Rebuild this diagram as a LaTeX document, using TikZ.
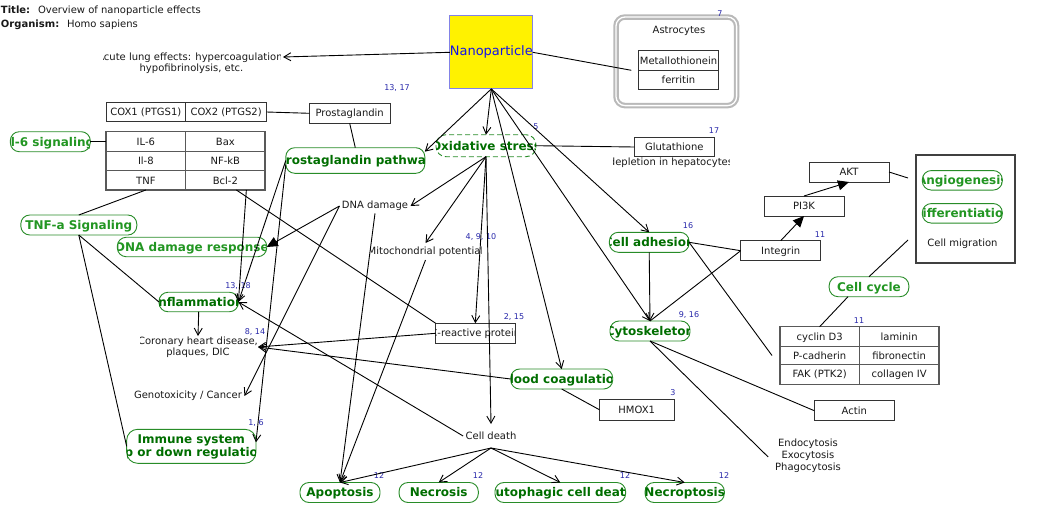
\documentclass[tikz,border=0pt]{standalone}
\usepackage{fontspec}
\setmainfont{DejaVu Sans}
\usetikzlibrary{arrows.meta}

\definecolor{pwdark}{RGB}{0,110,0}
\definecolor{pwlight}{RGB}{34,150,34}
\definecolor{pwedge}{RGB}{40,140,40}
\definecolor{refblue}{RGB}{40,40,170}
\definecolor{npblue}{RGB}{20,20,235}
\definecolor{npedge}{RGB}{130,130,230}
\definecolor{grpgray}{RGB}{185,185,185}

\tikzset{
  base/.style={inner sep=0pt, outer sep=0pt},
  plain/.style={base, font=\fontsize{10}{11}\selectfont, text=black!90},
  txt/.style={plain, text height=7.3pt, text depth=0pt},
  gene/.style={txt, draw=black!80, line width=0.9pt, fill=white},
  cell/.style={txt, draw=black!65, line width=1.1pt},
  pwbox/.style={base, draw=pwedge, line width=0.9pt, fill=white, rounded corners=9pt},
  pwtext/.style={base, font=\fontsize{12}{13}\selectfont\bfseries, text height=8.7pt, text depth=0pt},
  ref/.style={base, font=\fontsize{8}{9}\selectfont, text=refblue},
  link/.style={draw=black, line width=0.9pt},
  arr/.style={link, -{Straight Barb[length=7pt,width=8pt]}},
  tri/.style={link, -{Triangle[length=11pt,width=10pt]}},
}

% pathway label: rounded box whose label is cut at the box edges
\newcommand\pwnode[7]{%
  \node[pwbox, minimum width=#3, minimum height=#4, #7] (#1) at (#2) {};
  \begin{scope}
    \clip ([xshift=0.8pt]#1.south west) rectangle ([xshift=-0.8pt]#1.north east);
    \node[pwtext, text=#5] (#1-label) at (#1.center) {#6};
  \end{scope}}

% free text cut at a fixed width
\newcommand\cliptext[5]{%
  \node[base, minimum width=#3, minimum height=#4] (#1) at (#2) {};
  \begin{scope}
    \clip (#1.south west) rectangle (#1.north east);
    \node[plain, align=center] (#1-label) at (#1.center) {#5};
  \end{scope}}

\begin{document}
\begin{tikzpicture}[x=1pt, y=-1pt]
\fill[white] (0,0) rectangle (1037,517);
\useasboundingbox (0,0) rectangle (1037,517);

% header
\node[txt, anchor=west, font=\fontsize{10}{11}\selectfont\bfseries] (ttlkey) at (1,10) {Title:};
\node[txt, anchor=west] (ttlval) at (38,10) {Overview of nanoparticle effects};
\node[txt, anchor=west, font=\fontsize{10}{11}\selectfont\bfseries] (orgkey) at (1,24) {Organism:};
\node[txt, anchor=west] (orgval) at (67,24) {Homo sapiens};

% nanoparticle
\node[base, draw=npedge, fill=yellow, line width=1pt, minimum width=79.3pt, minimum height=73.3pt,
      font=\fontsize{13}{14}\selectfont, text=npblue] (np) at (491.3,52.3) {Nanoparticle};

% astrocytes group
\node[base, draw=grpgray, double=white, double distance=1.3pt, line width=2.1pt, rounded corners=9pt,
      minimum width=120.6pt, minimum height=88.6pt] (astro) at (676.3,61.3) {};
\node[txt] (astrolbl) at (679,30) {Astrocytes};
\node[gene, minimum width=80.4pt, minimum height=19.6pt] (mt) at (678.5,60.5) {Metallothionein};
\node[gene, minimum width=80.4pt, minimum height=19pt] (fer) at (678.5,79.8) {ferritin};

% acute lung effects
\cliptext{lung}{191.5,63}{177pt}{26pt}{Acute lung effects: hypercoagulation,\\hypofibrinolysis, etc.}

% COX and prostaglandin
\node[gene, minimum width=79.7pt, minimum height=19.4pt] (cox1) at (145.85,112) {COX1 (PTGS1)};
\node[gene, minimum width=81pt, minimum height=19.4pt] (cox2) at (226.2,112) {COX2 (PTGS2)};
\node[gene, minimum width=80.7pt, minimum height=20pt] (pg) at (349.7,113.3) {Prostaglandin};

% cytokine table
\node[cell, minimum width=79.7pt, minimum height=20pt] (il6) at (145.85,141.7) {IL-6};
\node[cell, minimum width=79.3pt, minimum height=20pt] (bax) at (225.35,141.7) {Bax};
\node[cell, minimum width=79.7pt, minimum height=19pt] (il8) at (145.85,161.2) {Il-8};
\node[cell, minimum width=79.3pt, minimum height=19pt] (nfkb) at (225.35,161.2) {NF-kB};
\node[cell, minimum width=79.7pt, minimum height=19.3pt] (tnf) at (145.85,180.35) {TNF};
\node[cell, minimum width=79.3pt, minimum height=19.3pt] (bcl2) at (225.35,180.35) {Bcl-2};

% pathway boxes, left and centre
\pwnode{pgp}{355.3,160.5}{139pt}{25.6pt}{pwdark}{Prostaglandin pathway}{}
\pwnode{ox}{486,145.7}{100pt}{22pt}{pwdark}{Oxidative stress}{dashed, dash pattern=on 5pt off 3pt, rounded corners=10pt}
\pwnode{il6sig}{50.3,141.7}{80pt}{20pt}{pwlight}{Il-6 signaling}{}
\pwnode{tnfs}{78.8,225}{116pt}{20pt}{pwlight}{TNF-a Signaling}{}
\pwnode{dnr}{192,247}{149.4pt}{19.5pt}{pwlight}{DNA damage response}{}
\pwnode{infl}{198.7,302}{79.4pt}{19.5pt}{pwdark}{Inflammation}{}

% immune system (two lines)
\node[pwbox, minimum width=129.3pt, minimum height=34pt, rounded corners=11pt] (imm) at (191.3,446.3) {};
\begin{scope}
  \clip ([xshift=0.8pt]imm.south west) rectangle ([xshift=-0.8pt]imm.north east);
  \node[pwtext, text=pwdark, anchor=base] (imm-top) at (191.3,443.4) {Immune system};
  \node[pwtext, text=pwdark, anchor=base] (imm-bot) at (191.3,456.6) {up or down regulation};
\end{scope}

% free text labels
\node[plain, inner sep=2.5pt] (dnad) at (375,206) {DNA damage};
\cliptext{mito}{425.5,252}{111pt}{16pt}{Mitochondrial potential}
\cliptext{cor}{198,347}{116pt}{22pt}{Coronary heart disease,\\plaques, DIC}
\node[plain, inner sep=2.5pt] (geno) at (188,396) {Genotoxicity / Cancer};
\node[plain, inner sep=2.5pt, minimum height=24pt] (cd) at (491,436) {Cell death};

% glutathione
\node[gene, minimum width=80pt, minimum height=19.4pt] (glut) at (674.3,147) {Glutathione};
\cliptext{depl}{671,163}{116pt}{14pt}{depletion in hepatocytes}

% C-reactive protein
\node[base, draw=black!80, line width=0.9pt, fill=white, minimum width=79.3pt, minimum height=20pt] (crp) at (475.3,333.3) {};
\begin{scope}
  \clip (crp.south west) rectangle (crp.north east);
  \node[txt] (crp-label) at (crp.center) {C-reactive protein};
\end{scope}

% coagulation
\pwnode{bc}{561.7,379}{102pt}{20pt}{pwdark}{Blood coagulation}{}
\node[gene, minimum width=74.7pt, minimum height=20.7pt] (hmox) at (636.7,409.7) {HMOX1};

% cell death outcomes
\pwnode{apop}{340,492.5}{80pt}{20pt}{pwdark}{Apoptosis}{}
\pwnode{necr}{438.7,492.5}{79.3pt}{20pt}{pwdark}{Necrosis}{}
\pwnode{auto}{560.3,492.5}{130.7pt}{20pt}{pwdark}{Autophagic cell death}{}
\pwnode{necp}{684.7,492.5}{79.3pt}{20pt}{pwdark}{Necroptosis}{}

% adhesion and cytoskeleton
\pwnode{ca}{649.2,242.3}{79.7pt}{20pt}{pwdark}{Cell adhesion}{}
\pwnode{cyto}{650,331}{80pt}{20pt}{pwdark}{Cytoskeleton}{}
\node[gene, minimum width=80pt, minimum height=20pt] (integ) at (780.7,250.7) {Integrin};
\node[gene, minimum width=80pt, minimum height=20pt] (pi3k) at (804,206) {PI3K};
\node[gene, minimum width=80pt, minimum height=20pt] (akt) at (849,172) {AKT};
\node[gene, minimum width=80pt, minimum height=20pt] (actin) at (854.3,410.7) {Actin};
\node[plain, align=center, font=\fontsize{10}{12}\selectfont] (endo) at (808,456) {Endocytosis\\Exocytosis\\Phagocytosis};

% outcomes box
\node[base, draw=black!75, line width=1.1pt, minimum width=99pt, minimum height=108pt] (big) at (965.5,209) {};
\pwnode{angio}{962.3,180.3}{80pt}{19.5pt}{pwlight}{Angiogenesis}{}
\pwnode{diff}{962.3,213.3}{80pt}{19.5pt}{pwlight}{Differentiation}{}
\node[txt] (migr) at (962.5,243) {Cell migration};
\pwnode{cc}{869,286.7}{79.7pt}{20pt}{pwlight}{Cell cycle}{}

% adhesion molecule table
\node[cell, minimum width=79.3pt, minimum height=20pt] (cyc) at (819.65,336.7) {cyclin D3};
\node[cell, minimum width=79.7pt, minimum height=20pt] (lam) at (899.15,336.7) {laminin};
\node[cell, minimum width=79.3pt, minimum height=17.6pt] (pcad) at (819.65,355.5) {P-cadherin};
\node[cell, minimum width=79.7pt, minimum height=17.6pt] (fib) at (899.15,355.5) {fibronectin};
\node[cell, minimum width=79.3pt, minimum height=20pt] (fak) at (819.65,374.3) {FAK (PTK2)};
\node[cell, minimum width=79.7pt, minimum height=20pt] (col) at (899.15,374.3) {collagen IV};

% literature references
\node[ref] (r1) at (397,88) {13, 17};
\node[ref] (r2) at (720,14) {7};
\node[ref] (r3) at (714,131) {17};
\node[ref] (r4) at (536,127) {5};
\node[ref] (r5) at (481,237) {4, 9, 10};
\node[ref] (r6) at (688,226) {16};
\node[ref] (r7) at (820,235) {11};
\node[ref] (r8) at (238,286) {13, 18};
\node[ref] (r9) at (255,332) {8, 14};
\node[ref] (r10) at (256,423) {1, 6};
\node[ref] (r11) at (514,317) {2, 15};
\node[ref] (r12) at (689,315) {9, 16};
\node[ref] (r13) at (673,393) {3};
\node[ref] (r14) at (859,321) {11};
\node[ref] (r15) at (379,476) {12};
\node[ref] (r16) at (478,476) {12};
\node[ref] (r17) at (625,476) {12};
\node[ref] (r18) at (724,476) {12};

% connectors from the nanoparticle
\draw[arr] (np.west) -- ([xshift=3pt,yshift=6pt]lung.east);
\draw[link] (np.east) -- ([xshift=-7pt]mt.south west);
\draw[arr] (np.south) -- ([yshift=-4pt]pgp.north east);
\draw[arr] (np.south) -- (ox.north);
\draw[arr] (np.south) -- (bc.north);
\draw[arr] (np.south) -- (cyto.north);
\draw[arr] (np.south) -- (ca.north);

% prostaglandin and cytokines
\draw[link] (cox2.east) -- (pg.west);
\draw[link] (pg.south) -- (pgp.north);
\draw[link] (il6sig.east) -- (il6.west);
\draw[link] (tnfs.north) -- (tnf.south);
\draw[link] (tnfs.south) -- (infl.west);
\draw[link] (tnfs.south) -- (imm.west);
\draw[arr] (pgp.west) -- (infl.east);
\draw[arr] ([yshift=-4pt]pgp.west) -- ([yshift=4pt]imm.east);
\draw[arr] ([xshift=21pt]bcl2.south) -- (infl.east);
\draw[link] ([xshift=11pt]bcl2.south) -- (crp.north west);

% DNA damage
\draw[tri] (dnad.west) -- (dnr.east);
\draw[arr] (dnad.west) -- (geno.east);
\draw[arr] (dnad.south) -- (apop.north);

% oxidative stress
\draw[arr] (ox.south) -- (dnad.east);
\draw[arr] (ox.south) -- ([yshift=1pt]mito.north);
\draw[arr] (ox.south) -- (crp.north);
\draw[arr] (ox.south) -- (cd.north);
\draw[link] (ox.east) -- (glut.west);
\draw[arr] (mito.south) -- (apop.north);

% coronary heart disease
\draw[arr] (crp.west) -- ([xshift=2pt]cor.east);
\draw[arr] (bc.west) -- ([xshift=2pt]cor.east);
\draw[arr] (infl.south) -- (cor.north);
\draw[link] (bc.south) -- (hmox.west);

% cell death
\draw[arr] (cd.west) -- (infl.east);
\draw[arr] (cd.south) -- (apop.north);
\draw[arr] (cd.south) -- (necr.north);
\draw[arr] (cd.south) -- (auto.north);
\draw[arr] (cd.south) -- (necp.north);

% adhesion signalling
\draw[arr] (ca.south) -- (cyto.north);
\draw[link] (ca.east) -- (integ.west);
\draw[link] (integ.west) -- (cyto.north);
\draw[link] (ca.east) -- ([xshift=-8pt]pcad.west);
\draw[tri] (integ.north) -- (pi3k.south);
\draw[tri] (pi3k.north) -- (akt.south);
\draw[link] (akt.east) -- ([xshift=-8pt,yshift=-23pt]big.north west);
\draw[link] (cc.north) -- ([xshift=-8pt,yshift=23pt]big.south west);
\draw[link] ([xshift=-21pt]cc.south) -- (cyc.north);
\draw[link] (cyto.south) -- (actin.west);
\draw[link] (cyto.south) -- ([xshift=-7pt,yshift=-1pt]endo.west);
\end{tikzpicture}
\end{document}
